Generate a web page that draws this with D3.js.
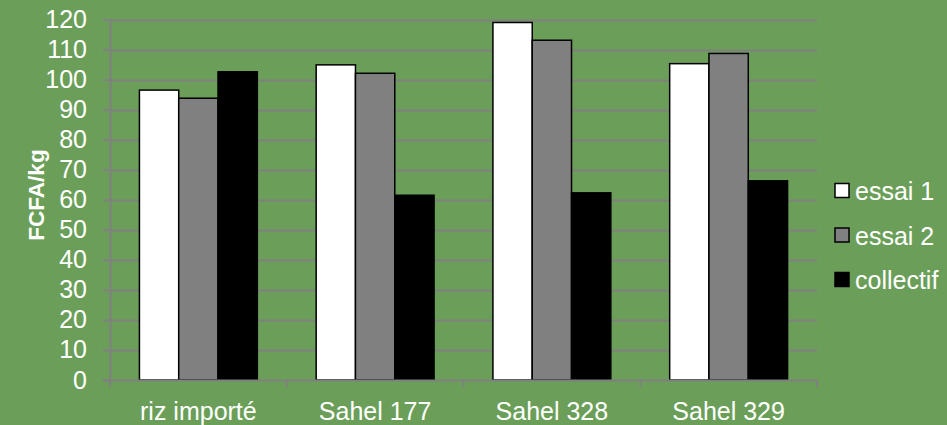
<!DOCTYPE html>
<html>
<head>
<meta charset="utf-8">
<script src="https://cdn.jsdelivr.net/npm/d3@7"></script>
<style>
  body { margin: 0; background: #6b9f59; }
  svg { display: block; font-family: "Liberation Sans", Arial, sans-serif; }
</style>
</head>
<body>
<div id="my_dataviz"></div>
<script>
// data
var categories = ["riz importé", "Sahel 177", "Sahel 328", "Sahel 329"]
var seriesNames = ["essai 1", "essai 2", "collectif"]
var essai1 = [96.5, 104.9, 119, 105.3]
var essai2 = [93.8, 102.1, 113.1, 108.7]
var collectif = [102.6, 61.5, 62.3, 66.3]
var yTicks = [0, 10, 20, 30, 40, 50, 60, 70, 80, 90, 100, 110, 120]

var seriesValues = [essai1, essai2, collectif]
var colors = ["#ffffff", "#808080", "#000000"]

var width = 947,
    height = 425
var margin = {top: 19, right: 130, bottom: 45, left: 110}
var plotRight = 817

var svg = d3.select("#my_dataviz")
  .append("svg")
    .attr("width", width)
    .attr("height", height)

svg.append("rect")
  .attr("width", width)
  .attr("height", height)
  .attr("fill", "#6b9f59")

var x0 = d3.scaleBand()
  .domain(categories)
  .range([margin.left, plotRight])
  .paddingInner(0.333)
  .paddingOuter(0.1665)

var x1 = d3.scaleBand()
  .domain(seriesNames)
  .range([0, x0.bandwidth()])

var y = d3.scaleLinear()
  .domain([0, 120])
  .range([380, 19.5])

// gridlines
svg.append("g")
  .selectAll("line")
  .data(yTicks.filter(function(d) { return d > 0 }))
  .enter()
  .append("line")
    .attr("x1", margin.left)
    .attr("x2", plotRight)
    .attr("y1", function(d) { return Math.round(y(d)) + 0.5 })
    .attr("y2", function(d) { return Math.round(y(d)) + 0.5 })
    .attr("stroke", "#808080")
    .attr("stroke-width", 2)

// bars
var rows = categories.map(function(c, i) {
  return seriesNames.map(function(s, j) { return {cat: c, key: s, value: seriesValues[j][i], idx: j} })
})

svg.append("g")
  .selectAll("g")
  .data(rows)
  .enter()
  .append("g")
    .attr("transform", function(d, i) { return "translate(" + x0(categories[i]) + ",0)" })
  .selectAll("rect")
  .data(function(d) { return d })
  .enter()
  .append("rect")
    .attr("x", function(d) { return x1(d.key) })
    .attr("y", function(d) { return y(d.value) })
    .attr("width", x1.bandwidth())
    .attr("height", function(d) { return y(0) - y(d.value) })
    .attr("fill", function(d) { return colors[d.idx] })
    .attr("stroke", "#000")
    .attr("stroke-width", 1.5)

// y axis
var yAxis = svg.append("g")
  .attr("transform", "translate(" + margin.left + ",0)")
  .call(d3.axisLeft(y).tickValues(yTicks).tickSize(7).tickPadding(16))
yAxis.select(".domain").attr("stroke", "#808080").attr("stroke-width", 2)
yAxis.selectAll(".tick line").attr("stroke", "#808080").attr("stroke-width", 2)
yAxis.selectAll("text")
  .attr("fill", "#fff")
  .attr("font-family", "Liberation Sans, Arial, sans-serif")
  .style("font-size", "25px")

// x axis
var xTickPos = d3.range(categories.length + 1).map(function(i) { return margin.left + i * (plotRight - margin.left) / categories.length })
svg.append("line")
  .attr("x1", margin.left - 7).attr("x2", plotRight)
  .attr("y1", 380.5).attr("y2", 380.5)
  .attr("stroke", "#808080").attr("stroke-width", 2)
svg.append("g")
  .selectAll("line")
  .data(xTickPos)
  .enter()
  .append("line")
    .attr("x1", function(d) { return d }).attr("x2", function(d) { return d })
    .attr("y1", 380).attr("y2", 387)
    .attr("stroke", "#808080").attr("stroke-width", 2)

svg.append("g")
  .selectAll("text")
  .data(categories)
  .enter()
  .append("text")
    .attr("x", function(d) { return x0(d) + x0.bandwidth() / 2 })
    .attr("y", 420)
    .attr("text-anchor", "middle")
    .attr("fill", "#fff")
    .style("font-size", "25px")
    .text(function(d) { return d })

// y axis title
svg.append("text")
  .attr("transform", "translate(44,195) rotate(-90)")
  .attr("text-anchor", "middle")
  .attr("fill", "#fff")
  .style("font-size", "22.5px")
  .style("font-weight", "bold")
  .text("FCFA/kg")

// legend
var legend = svg.append("g")
  .selectAll("g")
  .data(seriesNames)
  .enter()
  .append("g")
    .attr("transform", function(d, i) { return "translate(835," + (191 + i * 44.5) + ")" })

legend.append("rect")
  .attr("x", 0).attr("y", -7.5)
  .attr("width", 14).attr("height", 14)
  .attr("fill", function(d, i) { return colors[i] })
  .attr("stroke", "#000")
  .attr("stroke-width", 1.5)

legend.append("text")
  .attr("x", 20)
  .attr("y", 9)
  .attr("fill", "#fff")
  .style("font-size", "25px")
  .text(function(d) { return d })
</script>
</body>
</html>
